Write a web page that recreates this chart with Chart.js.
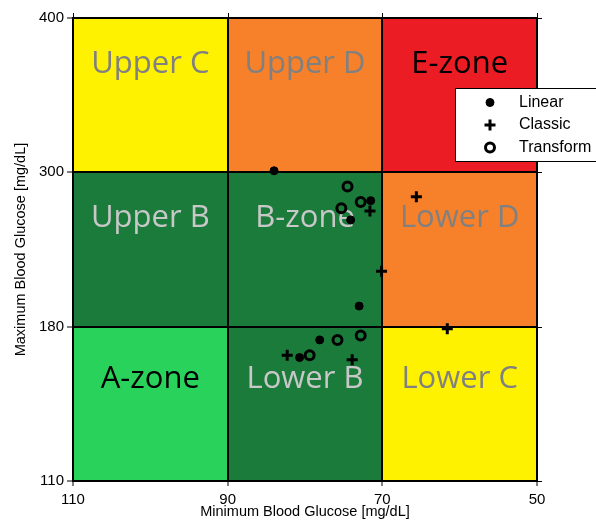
<!DOCTYPE html>
<html>
<head>
<meta charset="utf-8">
<script src="https://cdn.jsdelivr.net/npm/chart.js@4"></script>
<style>
  html, body { margin: 0; padding: 0; background: #fff; }
  #wrap { width: 596px; height: 521px; position: relative; }
</style>
</head>
<body>
<div id="wrap"><canvas id="cvga"></canvas></div>
<script>
// Tick labels (grid boundaries, mg/dL)
const xTicks = [110, 90, 70, 50];
const yTicks = [110, 180, 300, 400];

// Series: [min BG, max BG] in mg/dL
const linearMin = [84, 71.5, 74.1, 73.0, 78.1, 80.7];
const linearMax = [301, 278, 263, 196, 174, 166];
const classicMin = [71.6, 70.1, 65.6, 61.6, 82.3, 73.9];
const classicMax = [270, 223, 281, 179, 167, 165];
const transformMin = [74.5, 72.8, 75.3, 72.8, 75.8, 79.4];
const transformMax = [289, 277, 272, 176, 174, 167];

// Zones, row by row from the top
const zoneNames = [
    ['Upper C', 'Upper D', 'E-zone'],
    ['Upper B', 'B-zone', 'Lower D'],
    ['A-zone', 'Lower B', 'Lower C']
];
const zoneFill = [
    ['#fff200', '#f7802a', '#ec1c24'],
    ['#1b7b3b', '#1b7b3b', '#f7802a'],
    ['#29d35b', '#1b7b3b', '#fff200']
];
const zoneText = [
    ['#808080', '#808080', '#000000'],
    ['#c8c8c8', '#c8c8c8', '#808080'],
    ['#000000', '#c8c8c8', '#808080']
];

// CVGA grid is piecewise: each band takes one unit
function toGridX(v) {
    for (let i = 0; i < xTicks.length - 1; i++) {
        if (v >= xTicks[i + 1]) return i + (xTicks[i] - v) / (xTicks[i] - xTicks[i + 1]);
    }
    return 3;
}
function toGridY(v) {
    for (let i = 0; i < yTicks.length - 1; i++) {
        if (v <= yTicks[i + 1]) return i + (v - yTicks[i]) / (yTicks[i + 1] - yTicks[i]);
    }
    return 3;
}
function points(xs, ys) {
    return xs.map((x, i) => ({ x: toGridX(x), y: toGridY(ys[i]) }));
}

const tickFont = { family: '"Liberation Sans", Arial, sans-serif', size: 15 };
const titleFont = { family: '"Liberation Sans", Arial, sans-serif', size: 14.5 };
const labelOffset = [46, 46, 53];

const zonePlugin = {
    id: 'zones',
    beforeDraw(chart) {
        const { ctx, scales: { x, y } } = chart;
        for (let r = 0; r < 3; r++) {
            for (let c = 0; c < 3; c++) {
                const x0 = x.getPixelForValue(c), x1 = x.getPixelForValue(c + 1);
                const y0 = y.getPixelForValue(3 - r), y1 = y.getPixelForValue(2 - r);
                ctx.fillStyle = zoneFill[r][c];
                ctx.fillRect(x0, y0, x1 - x0, y1 - y0);
            }
        }
    },
    beforeDatasetsDraw(chart) {
        const { ctx, scales: { x, y } } = chart;
        ctx.save();
        ctx.font = '31px "Open Sans", sans-serif';
        ctx.textAlign = 'center';
        ctx.textBaseline = 'middle';
        for (let r = 0; r < 3; r++) {
            for (let c = 0; c < 3; c++) {
                const cx = (x.getPixelForValue(c) + x.getPixelForValue(c + 1)) / 2;
                const cy = y.getPixelForValue(3 - r) + labelOffset[r];
                ctx.fillStyle = zoneText[r][c];
                ctx.fillText(zoneNames[r][c], cx, cy);
            }
        }
        ctx.restore();
    },
    afterDraw(chart) {
        const { ctx, chartArea: a, scales: { x, y } } = chart;
        ctx.save();
        // mirror ticks on top and right
        ctx.strokeStyle = '#000';
        ctx.lineWidth = 1;
        for (let i = 0; i <= 3; i++) {
            const px = Math.round(x.getPixelForValue(i)) + 0.5;
            ctx.beginPath(); ctx.moveTo(px, a.top - 5); ctx.lineTo(px, a.top); ctx.stroke();
            const py = Math.round(y.getPixelForValue(i)) + 0.5;
            ctx.beginPath(); ctx.moveTo(a.right, py); ctx.lineTo(a.right + 5, py); ctx.stroke();
        }
        // legend box
        const bx = 455.5, by = 88.5, bw = 145, bh = 73;
        ctx.fillStyle = '#fff';
        ctx.fillRect(bx, by, bw, bh);
        ctx.strokeRect(bx, by, bw, bh);
        ctx.font = '16px "Liberation Sans", Arial, sans-serif';
        ctx.textBaseline = 'middle';
        ctx.textAlign = 'left';
        chart.data.datasets.forEach((ds, i) => {
            const ry = 102.5 + i * 22.5;
            Chart.helpers.drawPoint(ctx, {
                pointStyle: ds.pointStyle,
                radius: ds.pointRadius,
                borderWidth: ds.pointBorderWidth
            }, 490, ry);
            ctx.fillStyle = '#000';
            ctx.fillText(ds.label, 519, ry);
        });
        ctx.restore();
    }
};

// drawPoint needs stroke/fill styles set per series
const origDraw = Chart.helpers.drawPoint;
Chart.helpers.drawPoint = function (ctx, opts, px, py) {
    ctx.strokeStyle = '#000';
    ctx.fillStyle = opts.pointStyle === 'circle' && opts.borderWidth > 2 ? 'rgba(0,0,0,0)' : '#000';
    ctx.lineWidth = opts.borderWidth;
    return origDraw(ctx, opts, px, py);
};

new Chart(document.getElementById('cvga'), {
    type: 'scatter',
    data: {
        datasets: [
            {
                label: 'Linear',
                data: points(linearMin, linearMax),
                pointStyle: 'circle',
                pointRadius: 4,
                pointBorderWidth: 1,
                backgroundColor: '#000',
                borderColor: '#000'
            },
            {
                label: 'Classic',
                data: points(classicMin, classicMax),
                pointStyle: 'cross',
                pointRadius: 5.5,
                pointBorderWidth: 3,
                backgroundColor: '#000',
                borderColor: '#000'
            },
            {
                label: 'Transform',
                data: points(transformMin, transformMax),
                pointStyle: 'circle',
                pointRadius: 4.5,
                pointBorderWidth: 3,
                backgroundColor: 'rgba(0,0,0,0)',
                borderColor: '#000'
            }
        ]
    },
    options: {
        responsive: true,
        maintainAspectRatio: false,
        animation: false,
        layout: { padding: { top: 18, right: 59, left: 0, bottom: 0 } },
        plugins: {
            legend: { display: false },
            tooltip: { enabled: false }
        },
        scales: {
            x: {
                type: 'linear',
                min: 0,
                max: 3,
                afterFit: s => { s.height = 40; },
                afterBuildTicks: s => { s.ticks = [0, 1, 2, 3].map(v => ({ value: v })); },
                ticks: {
                    color: '#000',
                    font: tickFont,
                    padding: 5,
                    maxRotation: 0,
                    callback: v => xTicks[v]
                },
                grid: { color: '#000', lineWidth: 2, tickLength: 5, tickColor: '#000', tickWidth: 1 },
                border: { display: true, color: '#000', width: 2 },
                title: {
                    display: true,
                    text: 'Minimum Blood Glucose [mg/dL]',
                    color: '#000',
                    font: titleFont,
                    padding: { top: -4, bottom: 0 }
                }
            },
            y: {
                type: 'linear',
                min: 0,
                max: 3,
                afterFit: s => { s.width = 73; },
                afterBuildTicks: s => { s.ticks = [0, 1, 2, 3].map(v => ({ value: v })); },
                ticks: {
                    color: '#000',
                    font: tickFont,
                    padding: 3,
                    callback: v => yTicks[v]
                },
                grid: { color: '#000', lineWidth: 2, tickLength: 6, tickColor: '#000', tickWidth: 1 },
                border: { display: true, color: '#000', width: 2 },
                title: {
                    display: true,
                    text: 'Maximum Blood Glucose [mg/dL]',
                    color: '#000',
                    font: titleFont,
                    padding: { top: 12, bottom: 0 }
                }
            }
        }
    },
    plugins: [zonePlugin]
});
</script>
</body>
</html>
